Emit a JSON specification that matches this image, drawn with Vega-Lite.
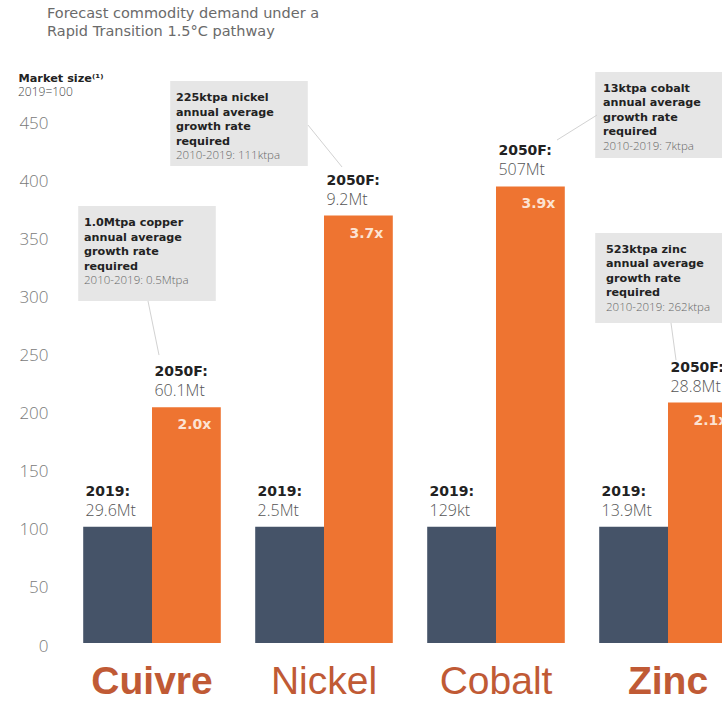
{
  "$schema": "https://vega.github.io/schema/vega-lite/v6.json",
  "width": 656,
  "height": 575,
  "autosize": {"type": "none"},
  "padding": {"left": 66, "top": 68, "right": 0, "bottom": 58},
  "background": "white",
  "config": {"view": {"stroke": null}},
  "title": {
    "text": ["Forecast commodity demand under a", "Rapid Transition 1.5°C pathway"],
    "anchor": "start",
    "frame": "group",
    "dx": -19,
    "offset": 29,
    "font": "DejaVu Sans",
    "fontSize": 14.5,
    "fontWeight": "normal",
    "color": "#6a6a6a",
    "lineHeight": 18
  },
  "datasets": {
    "bars": [
      {"Commodity": "Cuivre", "Year": "2019", "Index": 100, "Volume": "29.6Mt"},
      {"Commodity": "Cuivre", "Year": "2050F", "Index": 203, "Volume": "60.1Mt", "Multiple": "2.0x"},
      {"Commodity": "Nickel", "Year": "2019", "Index": 100, "Volume": "2.5Mt"},
      {"Commodity": "Nickel", "Year": "2050F", "Index": 368, "Volume": "9.2Mt", "Multiple": "3.7x"},
      {"Commodity": "Cobalt", "Year": "2019", "Index": 100, "Volume": "129kt"},
      {"Commodity": "Cobalt", "Year": "2050F", "Index": 393, "Volume": "507Mt", "Multiple": "3.9x"},
      {"Commodity": "Zinc", "Year": "2019", "Index": 100, "Volume": "13.9Mt"},
      {"Commodity": "Zinc", "Year": "2050F", "Index": 207, "Volume": "28.8Mt", "Multiple": "2.1x"}
    ]
  },
  "layer": [
    {
      "data": {"name": "bars"},
      "mark": {"type": "bar"},
      "encoding": {
        "x": {
          "field": "Commodity",
          "type": "nominal",
          "scale": {"domain": ["Cuivre", "Nickel", "Cobalt", "Zinc"], "range": [0, 688], "paddingInner": 0.2, "paddingOuter": 0.1},
          "axis": {
            "title": null,
            "domain": false,
            "ticks": false,
            "tickSize": 0,
            "labelPadding": 19,
            "labelFont": "Liberation Sans",
            "labelFontSize": 39,
            "labelColor": "#C05A35",
            "labelFontWeight": {"condition": {"test": "datum.value === 'Cuivre' || datum.value === 'Zinc'", "value": "bold"}, "value": "normal"},
            "labelAngle": 0
          }
        },
        "xOffset": {
          "field": "Year",
          "type": "nominal",
          "scale": {"domain": ["2019", "2050F"], "paddingInner": 0, "paddingOuter": 0}
        },
        "y": {
          "field": "Index",
          "type": "quantitative",
          "scale": {"domain": [0, 495], "nice": false, "zero": true},
          "axis": {
            "title": "Market size⁽¹⁾",
            "titleAngle": 0,
            "titleAlign": "left",
            "titleBaseline": "alphabetic",
            "titleX": -48,
            "titleY": 13,
            "titleFont": "DejaVu Sans",
            "titleFontSize": 11.3,
            "titleFontWeight": "bold",
            "titleColor": "#222222",
            "values": [0, 50, 100, 150, 200, 250, 300, 350, 400, 450],
            "domain": false,
            "ticks": false,
            "tickSize": 0,
            "grid": false,
            "labelPadding": 18,
            "labelOffset": 3,
            "labelFont": "Open Sans",
            "labelFontWeight": 300,
            "labelFontSize": 17,
            "labelColor": "#7a7a7a"
          }
        },
        "color": {
          "field": "Year",
          "type": "nominal",
          "scale": {"domain": ["2019", "2050F"], "range": ["#455368", "#EE7431"]},
          "legend": null
        }
      }
    },
    {
      "data": {"name": "bars"},
      "transform": [{"calculate": "datum.Year + ':'", "as": "YearLabel"}],
      "mark": {"type": "text", "align": "left", "baseline": "alphabetic", "dx": -32, "dy": -31, "font": "DejaVu Sans", "fontSize": 14, "fontWeight": "bold", "color": "#222222"},
      "encoding": {
        "x": {"field": "Commodity", "type": "nominal"},
        "xOffset": {"field": "Year", "type": "nominal"},
        "y": {"field": "Index", "type": "quantitative"},
        "text": {"field": "YearLabel", "type": "nominal"}
      }
    },
    {
      "data": {"name": "bars"},
      "mark": {"type": "text", "align": "left", "baseline": "alphabetic", "dx": -32, "dy": -11, "font": "Open Sans", "fontSize": 16, "fontWeight": 300, "color": "#555555"},
      "encoding": {
        "x": {"field": "Commodity", "type": "nominal"},
        "xOffset": {"field": "Year", "type": "nominal"},
        "y": {"field": "Index", "type": "quantitative"},
        "text": {"field": "Volume", "type": "nominal"}
      }
    },
    {
      "data": {"name": "bars"},
      "transform": [{"filter": "datum.Year === '2050F'"}],
      "mark": {"type": "text", "align": "right", "baseline": "alphabetic", "dx": 25, "dy": 22, "font": "DejaVu Sans", "fontSize": 14, "fontWeight": "bold", "color": "#FCE3D3"},
      "encoding": {
        "x": {"field": "Commodity", "type": "nominal"},
        "xOffset": {"field": "Year", "type": "nominal"},
        "y": {"field": "Index", "type": "quantitative"},
        "text": {"field": "Multiple", "type": "nominal"}
      }
    },
    {
      "data": {"values": [{"note": "2019=100"}]},
      "mark": {"type": "text", "align": "left", "baseline": "alphabetic", "dx": -134, "font": "Open Sans", "fontSize": 12, "fontWeight": 300, "color": "#444444"},
      "encoding": {
        "x": {"datum": "Cuivre"},
        "y": {"datum": 470.9},
        "text": {"field": "note", "type": "nominal"}
      }
    },
    {
      "data": {"values": [{"Commodity": "Cuivre", "head": ["1.0Mtpa copper", "annual average", "growth rate", "required"], "base": "2010-2019: 0.5Mtpa"}]},
      "layer": [
        {"mark": {"type": "rect", "xOffset": -5, "color": "#E6E6E6"}, "encoding": {"x": {"datum": "Cuivre"}, "y": {"datum": 376.2}, "y2": {"datum": 294.4}}},
        {"mark": {"type": "rule", "xOffset": -4, "x2Offset": 7, "color": "#d2d2d2", "strokeWidth": 1}, "encoding": {"x": {"datum": "Cuivre"}, "x2": {"datum": "Cuivre"}, "y": {"datum": 294.4}, "y2": {"datum": 247.9}}},
        {"mark": {"type": "text", "align": "left", "baseline": "alphabetic", "dx": -68, "dy": 20, "font": "DejaVu Sans", "fontSize": 11.2, "fontWeight": "bold", "lineHeight": 14.5, "color": "#222222"}, "encoding": {"x": {"datum": "Cuivre"}, "y": {"datum": 376.2}, "text": {"field": "head", "type": "nominal"}}},
        {"mark": {"type": "text", "align": "left", "baseline": "alphabetic", "dx": -68, "dy": 78, "font": "Open Sans", "fontSize": 11.5, "fontWeight": 300, "color": "#666666"}, "encoding": {"x": {"datum": "Cuivre"}, "y": {"datum": 376.2}, "text": {"field": "base", "type": "nominal"}}}
      ]
    },
    {
      "data": {"values": [{"Commodity": "Nickel", "head": ["225ktpa nickel", "annual average", "growth rate", "required"], "base": "2010-2019: 111ktpa"}]},
      "layer": [
        {"mark": {"type": "rect", "xOffset": -85, "color": "#E6E6E6"}, "encoding": {"x": {"datum": "Nickel"}, "y": {"datum": 483.8}, "y2": {"datum": 410.6}}},
        {"mark": {"type": "rule", "xOffset": -16, "x2Offset": 18, "color": "#d2d2d2", "strokeWidth": 1}, "encoding": {"x": {"datum": "Nickel"}, "x2": {"datum": "Nickel"}, "y": {"datum": 445.9}, "y2": {"datum": 409.8}}},
        {"mark": {"type": "text", "align": "left", "baseline": "alphabetic", "dx": -148, "dy": 20, "font": "DejaVu Sans", "fontSize": 11.2, "fontWeight": "bold", "lineHeight": 14.5, "color": "#222222"}, "encoding": {"x": {"datum": "Nickel"}, "y": {"datum": 483.8}, "text": {"field": "head", "type": "nominal"}}},
        {"mark": {"type": "text", "align": "left", "baseline": "alphabetic", "dx": -148, "dy": 78, "font": "Open Sans", "fontSize": 11.5, "fontWeight": 300, "color": "#666666"}, "encoding": {"x": {"datum": "Nickel"}, "y": {"datum": 483.8}, "text": {"field": "base", "type": "nominal"}}}
      ]
    },
    {
      "data": {"values": [{"Commodity": "Cobalt", "head": ["13ktpa cobalt", "annual average", "growth rate", "required"], "base": "2010-2019: 7ktpa"}]},
      "layer": [
        {"mark": {"type": "rect", "xOffset": 168, "color": "#E6E6E6"}, "encoding": {"x": {"datum": "Cobalt"}, "y": {"datum": 491.6}, "y2": {"datum": 417.5}}},
        {"mark": {"type": "rule", "xOffset": 101, "x2Offset": 61, "color": "#d2d2d2", "strokeWidth": 1}, "encoding": {"x": {"datum": "Cobalt"}, "x2": {"datum": "Cobalt"}, "y": {"datum": 454.5}, "y2": {"datum": 433.0}}},
        {"mark": {"type": "text", "align": "left", "baseline": "alphabetic", "dx": 107, "dy": 20, "font": "DejaVu Sans", "fontSize": 11.2, "fontWeight": "bold", "lineHeight": 14.5, "color": "#222222"}, "encoding": {"x": {"datum": "Cobalt"}, "y": {"datum": 491.6}, "text": {"field": "head", "type": "nominal"}}},
        {"mark": {"type": "text", "align": "left", "baseline": "alphabetic", "dx": 107, "dy": 78, "font": "Open Sans", "fontSize": 11.5, "fontWeight": 300, "color": "#666666"}, "encoding": {"x": {"datum": "Cobalt"}, "y": {"datum": 491.6}, "text": {"field": "base", "type": "nominal"}}}
      ]
    },
    {
      "data": {"values": [{"Commodity": "Zinc", "head": ["523ktpa zinc", "annual average", "growth rate", "required"], "base": "2010-2019: 262ktpa"}]},
      "layer": [
        {"mark": {"type": "rect", "xOffset": -4, "color": "#E6E6E6"}, "encoding": {"x": {"datum": "Zinc"}, "y": {"datum": 353.0}, "y2": {"datum": 275.5}}},
        {"mark": {"type": "rule", "xOffset": 3, "x2Offset": 8, "color": "#d2d2d2", "strokeWidth": 1}, "encoding": {"x": {"datum": "Zinc"}, "x2": {"datum": "Zinc"}, "y": {"datum": 275.5}, "y2": {"datum": 243.6}}},
        {"mark": {"type": "text", "align": "left", "baseline": "alphabetic", "dx": -62, "dy": 20, "font": "DejaVu Sans", "fontSize": 11.2, "fontWeight": "bold", "lineHeight": 14.5, "color": "#222222"}, "encoding": {"x": {"datum": "Zinc"}, "y": {"datum": 353.0}, "text": {"field": "head", "type": "nominal"}}},
        {"mark": {"type": "text", "align": "left", "baseline": "alphabetic", "dx": -62, "dy": 78, "font": "Open Sans", "fontSize": 11.5, "fontWeight": 300, "color": "#666666"}, "encoding": {"x": {"datum": "Zinc"}, "y": {"datum": 353.0}, "text": {"field": "base", "type": "nominal"}}}
      ]
    }
  ]
}
